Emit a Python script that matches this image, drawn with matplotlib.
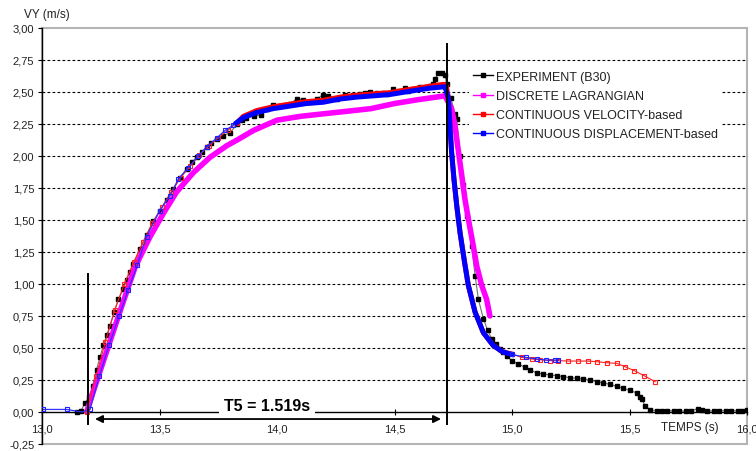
import matplotlib
matplotlib.use("Agg")
import matplotlib.pyplot as plt
from matplotlib.patches import Rectangle
from matplotlib.lines import Line2D

plt.rcParams['font.family'] = ['Liberation Sans', 'DejaVu Sans']

# ---------------- data ----------------
exp_t = [13.15, 13.166, 13.183, 13.20, 13.215, 13.232, 13.247, 13.261, 13.275, 13.289,
         13.307, 13.325, 13.346, 13.36, 13.374, 13.389, 13.417, 13.445, 13.474, 13.502,
         13.53, 13.559, 13.587, 13.616, 13.637, 13.658, 13.68, 13.70, 13.72, 13.743,
         13.77, 13.80, 13.83, 13.85, 13.87, 13.90, 13.93, 13.956, 13.984, 14.013,
         14.035, 14.055, 14.084, 14.11, 14.14, 14.17, 14.197, 14.218, 14.254, 14.289,
         14.325, 14.353, 14.375, 14.396, 14.424, 14.45, 14.467, 14.495, 14.52, 14.545,
         14.559, 14.58, 14.609, 14.635, 14.652, 14.665, 14.672, 14.687, 14.70, 14.715,
         14.722, 14.74, 14.757, 14.765, 14.779, 14.793, 14.807, 14.828, 14.843, 14.857,
         14.878, 14.896, 14.914, 14.932, 14.949, 14.963, 14.977, 14.999, 15.027, 15.055,
         15.077, 15.105, 15.133, 15.162, 15.19, 15.218, 15.247, 15.275, 15.303, 15.332,
         15.36, 15.389, 15.417, 15.446, 15.474, 15.502, 15.531, 15.545, 15.552, 15.566,
         15.587, 15.616, 15.64, 15.66, 15.69, 15.71, 15.74, 15.76, 15.79, 15.81,
         15.83, 15.86, 15.88, 15.91, 15.93, 15.96, 15.98, 16.0]
exp_v = [0.00, 0.01, 0.07, 0.12, 0.20, 0.33, 0.43, 0.52, 0.60, 0.67,
         0.78, 0.88, 0.96, 1.03, 1.09, 1.156, 1.27, 1.38, 1.49, 1.57,
         1.66, 1.74, 1.83, 1.90, 1.95, 1.99, 2.03, 2.07, 2.10, 2.13,
         2.16, 2.18, 2.25, 2.28, 2.30, 2.31, 2.32, 2.37, 2.40, 2.39,
         2.40, 2.41, 2.445, 2.44, 2.42, 2.445, 2.48, 2.47, 2.445, 2.48,
         2.48, 2.485, 2.49, 2.50, 2.49, 2.49, 2.485, 2.52, 2.51, 2.53,
         2.51, 2.52, 2.54, 2.54, 2.55, 2.56, 2.60, 2.65, 2.65, 2.63,
         2.56, 2.45, 2.33, 2.29, 2.00, 1.77, 1.53, 1.30, 1.065, 0.88,
         0.73, 0.64, 0.57, 0.53, 0.49, 0.465, 0.44, 0.40, 0.375, 0.349,
         0.33, 0.305, 0.297, 0.289, 0.284, 0.276, 0.268, 0.263, 0.258, 0.25,
         0.237, 0.227, 0.216, 0.20, 0.185, 0.169, 0.148, 0.12, 0.10, 0.05,
         0.018, 0.01, 0.005, 0.01, 0.01, 0.01, 0.005, 0.01, 0.025, 0.015,
         0.005, 0.01, 0.01, 0.01, 0.01, 0.01, 0.01, 0.015]

lag_t = [13.19, 13.22, 13.26, 13.30, 13.34, 13.396, 13.43, 13.46, 13.516, 13.573,
         13.644, 13.715, 13.786, 13.835, 13.9, 14.0, 14.1, 14.2, 14.3, 14.4,
         14.5, 14.6, 14.715, 14.743, 14.757, 14.771, 14.786, 14.80, 14.814, 14.835,
         14.85, 14.871, 14.892, 14.906]
lag_v = [0.0, 0.17, 0.39, 0.61, 0.83, 1.13, 1.26, 1.37, 1.55, 1.72,
         1.87, 1.99, 2.08, 2.13, 2.20, 2.28, 2.31, 2.33, 2.35, 2.37,
         2.41, 2.44, 2.47, 2.37, 2.24, 2.05, 1.85, 1.66, 1.51, 1.30,
         1.14, 0.99, 0.88, 0.75]

vel_early_t = [13.19, 13.23, 13.27, 13.31, 13.35, 13.39, 13.43, 13.47, 13.51, 13.55,
               13.59, 13.63, 13.67, 13.71, 13.75, 13.79, 13.83]
vel_early_v = [0.0, 0.28, 0.55, 0.80, 1.00, 1.17, 1.33, 1.48, 1.60, 1.72,
               1.83, 1.92, 2.01, 2.08, 2.14, 2.20, 2.26]
vel_main_t = [13.83, 13.857, 13.914, 13.984, 14.055, 14.126, 14.197, 14.268, 14.339, 14.41,
              14.48, 14.58, 14.65, 14.708, 14.72, 14.729, 14.736, 14.743, 14.753, 14.765,
              14.779, 14.796, 14.814, 14.843, 14.878, 14.92, 14.96, 14.999]
vel_main_v = [2.26, 2.31, 2.355, 2.385, 2.405, 2.425, 2.435, 2.46, 2.475, 2.485,
              2.495, 2.525, 2.545, 2.56, 2.55, 2.45, 2.24, 2.03, 1.82, 1.61,
              1.40, 1.195, 0.99, 0.78, 0.62, 0.52, 0.47, 0.453]
vel_tail_t = [14.999, 15.041, 15.084, 15.119, 15.162, 15.197, 15.24, 15.282, 15.325, 15.36,
              15.403, 15.446, 15.481, 15.52, 15.562, 15.609]
vel_tail_v = [0.453, 0.427, 0.414, 0.409, 0.401, 0.401, 0.398, 0.398, 0.398, 0.393,
              0.385, 0.38, 0.354, 0.323, 0.284, 0.237]

disp_early_t = [13.006, 13.105, 13.17, 13.204, 13.244, 13.285, 13.328, 13.367, 13.406, 13.445,
                13.50, 13.545, 13.58, 13.623, 13.665, 13.70, 13.743, 13.779, 13.814, 13.828]
disp_early_v = [0.02, 0.02, 0.0, 0.02, 0.28, 0.52, 0.75, 0.955, 1.15, 1.37,
                1.57, 1.69, 1.82, 1.91, 2.0, 2.07, 2.14, 2.20, 2.24, 2.26]
disp_main_t = [13.828, 13.857, 13.914, 13.984, 14.055, 14.126, 14.197, 14.268, 14.339, 14.41,
               14.48, 14.58, 14.65, 14.708, 14.715, 14.729, 14.736, 14.743, 14.753, 14.765,
               14.779, 14.796, 14.814, 14.843, 14.878, 14.92, 14.96, 14.999]
disp_main_v = [2.26, 2.30, 2.34, 2.37, 2.39, 2.41, 2.42, 2.445, 2.46, 2.47,
               2.48, 2.51, 2.53, 2.54, 2.54, 2.45, 2.24, 2.03, 1.82, 1.61,
               1.40, 1.195, 0.99, 0.78, 0.62, 0.52, 0.47, 0.45]
disp_tail_t = [14.999, 15.06, 15.105, 15.145, 15.183, 15.197]
disp_tail_v = [0.45, 0.427, 0.414, 0.406, 0.406, 0.406]

labels = ["EXPERIMENT (B30)", "DISCRETE LAGRANGIAN",
          "CONTINUOUS VELOCITY-based", "CONTINUOUS DISPLACEMENT-based"]
t_start, t_end = 13.197, 14.722
annot = "T5 = 1.519s"

y_ticks = [-0.25 + 0.25 * i for i in range(14)]
x_ticks = [13.0, 13.5, 14.0, 14.5, 15.0, 15.5, 16.0]

# ---------------- figure ----------------
fig = plt.figure(figsize=(7.56, 4.52), dpi=100)
ax = fig.add_axes([42 / 756, 7 / 452, 705 / 756, 416 / 452])
ax.set_xlim(13.0, 16.0)
ax.set_ylim(-0.25, 3.0)

# plot area border (grey) and grid
ax.add_patch(Rectangle((0, 0), 1, 1, transform=ax.transAxes, fill=False,
                       edgecolor='#b4b4b4', lw=1.5, clip_on=False, zorder=0.5))
for yv in y_ticks:
    if 0 < yv < 3.0:
        ax.axhline(yv, color='black', lw=0.8, ls=(0, (2.5, 2.0)), zorder=1)

for s in ['top', 'right']:
    ax.spines[s].set_visible(False)
ax.spines['left'].set_color('black')
ax.spines['left'].set_linewidth(1.0)
ax.spines['bottom'].set_position(('data', 0))
ax.spines['bottom'].set_color('black')
ax.spines['bottom'].set_linewidth(1.0)

ax.set_yticks(y_ticks)
ax.set_yticklabels([f"{v:.2f}".replace('.', ',') for v in y_ticks])
ax.set_xticks(x_ticks)
ax.set_xticklabels([f"{v:.1f}".replace('.', ',') for v in x_ticks])
ax.tick_params(axis='y', direction='out', length=3, width=0.8, pad=2.5,
               labelsize=8, labelcolor='#222222')
ax.tick_params(axis='x', direction='inout', length=4, width=0.8, pad=6,
               labelsize=8, labelcolor='#222222')

# series (excel order: first at bottom)
ax.plot(exp_t, exp_v, color='#707070', lw=0.8, marker='s', ms=2.4,
        mfc='black', mec='black', zorder=3)
ax.plot(lag_t, lag_v, color='#ff00ff', lw=4.0, solid_capstyle='round', zorder=4)
ax.plot(vel_early_t, vel_early_v, color='#ff2020', lw=0.8, marker='s', ms=2.8,
        mfc='none', mec='#ff2020', mew=0.8, zorder=5)
ax.plot(vel_main_t, vel_main_v, color='#ff0000', lw=3.6, zorder=5)
ax.plot(vel_tail_t, vel_tail_v, color='#ff2020', lw=0.8, marker='s', ms=2.8,
        mfc='none', mec='#ff2020', mew=0.8, zorder=5)
ax.plot(disp_early_t, disp_early_v, color='#3030ff', lw=0.9, marker='s', ms=2.8,
        mfc='none', mec='#2020ff', mew=0.8, markevery=[0, 1, 3, 4, 5, 6, 7, 8, 9, 10,
                                                        11, 12, 13, 14, 15, 16, 17, 18],
        zorder=6)
ax.plot(disp_main_t, disp_main_v, color='#0000ff', lw=3.6, zorder=6)
ax.plot(disp_tail_t, disp_tail_v, color='#2020ff', lw=0.8, marker='s', ms=2.8,
        mfc='none', mec='#2020ff', mew=0.8, zorder=6)

# vertical markers and T5 annotation
ax.plot([t_start, t_start], [-0.095, 1.08], color='black', lw=1.4, zorder=7, clip_on=False)
ax.plot([t_end, t_end], [-0.095, 2.875], color='black', lw=1.4, zorder=7, clip_on=False)
ax.annotate('', xy=(13.2255, -0.055), xytext=(14.698, -0.055),
            arrowprops=dict(arrowstyle='<|-|>', color='black', lw=1.3,
                            mutation_scale=11, shrinkA=0, shrinkB=0), zorder=8)
ax.text(13.957, 0.014, annot, ha='center', va='baseline', fontsize=11.5,
        fontweight='bold', color='black', zorder=8,
        bbox=dict(boxstyle='square,pad=0.3', fc='white', ec='none'))

# axis titles
fig.text(24 / 756, 1 - 15 / 452, "VY (m/s)", ha='left', va='center', fontsize=8.5,
         color='#222222')
ax.text(15.757, -0.117, "TEMPS (s)", ha='center', va='center', fontsize=8.5,
        color='#222222', zorder=8)

# legend
handles = [
    Line2D([], [], color='black', lw=1, marker='s', ms=2.4, mfc='black'),
    Line2D([], [], color='#ff00ff', lw=1, marker='s', ms=2.4, mfc='#ff00ff', mec='#ff00ff'),
    Line2D([], [], color='#ff0000', lw=1, marker='s', ms=2.4, mfc='#ff0000', mec='#ff0000'),
    Line2D([], [], color='#0000ff', lw=1, marker='s', ms=2.4, mfc='#0000ff', mec='#0000ff'),
]
leg = fig.legend(handles, labels, loc='upper left',
                 bbox_to_anchor=(469 / 756, 1 - 68 / 452), frameon=True,
                 fontsize=9, handlelength=1.6, handletextpad=0.25,
                 labelspacing=0.58, borderpad=0.3, borderaxespad=0)
leg.get_frame().set_facecolor('white')
leg.get_frame().set_edgecolor('none')
leg.get_frame().set_alpha(1)
for txt in leg.get_texts():
    txt.set_color('#222222')

fig.savefig('out.png', dpi=100)
